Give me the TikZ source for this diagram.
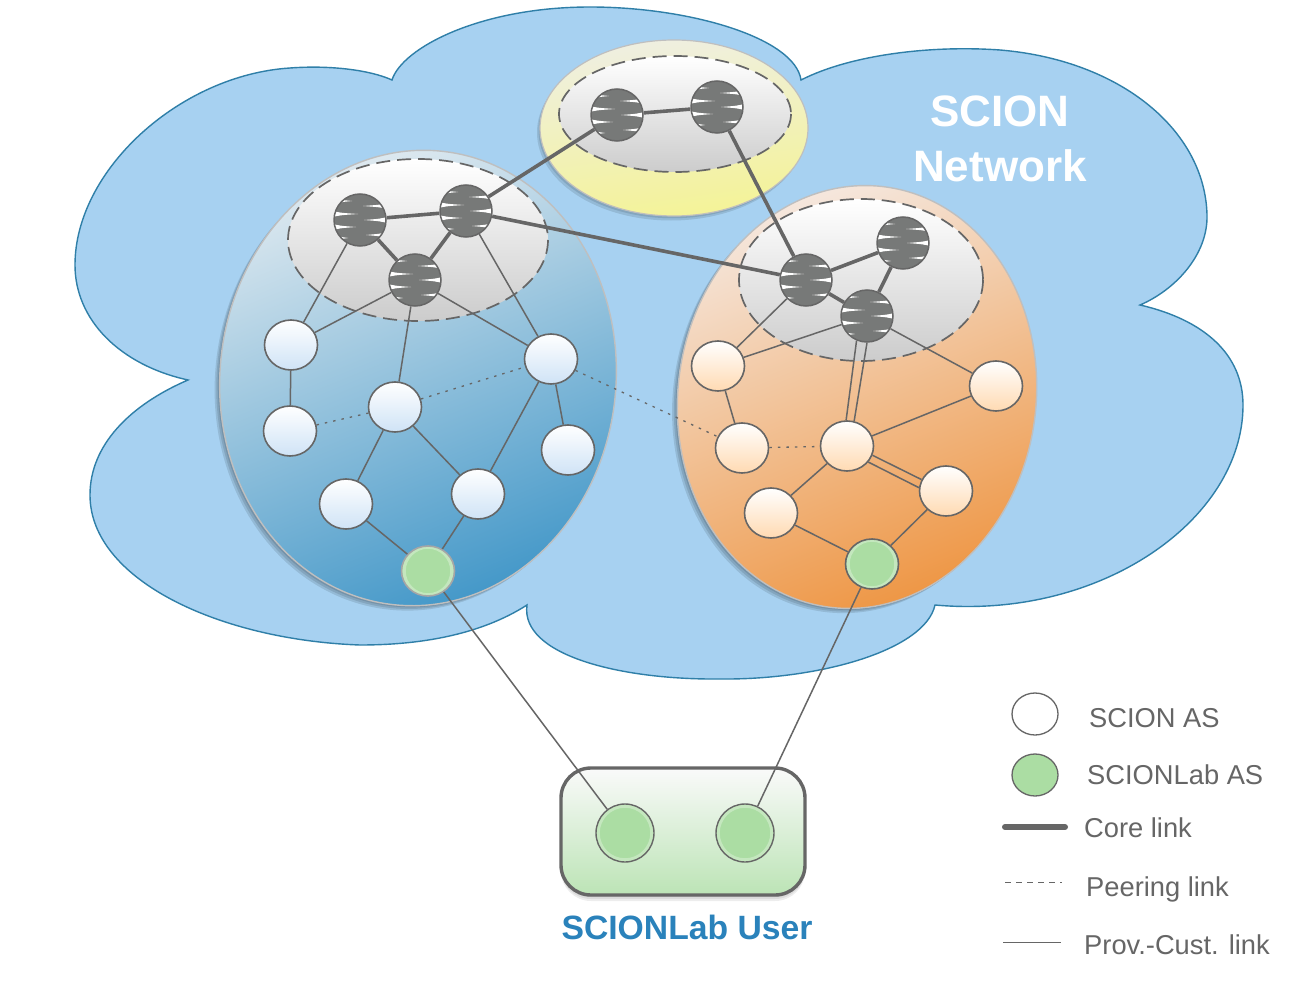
\documentclass[tikz,border=0pt]{standalone}
\usepackage{fontspec}
\setmainfont{Liberation Sans}
\usetikzlibrary{shapes.geometric}
\definecolor{linegray}{HTML}{666666}
\definecolor{routergray}{HTML}{777978}
\definecolor{cloudfill}{HTML}{A7D1F1}
\definecolor{cloudline}{HTML}{2F7FA8}
\definecolor{labgreen}{HTML}{ABDDA3}
\definecolor{userblue}{HTML}{2A82BB}
\definecolor{bluetop}{HTML}{E0EAF0}
\definecolor{bluebot}{HTML}{4297C8}
\definecolor{orangetop}{HTML}{F5E9E1}
\definecolor{orangebot}{HTML}{EE9542}
\definecolor{yellowtop}{HTML}{EFEFE2}
\definecolor{yellowbot}{HTML}{F4F396}
\definecolor{asbluebot}{HTML}{CFE3F6}
\definecolor{asorangebot}{HTML}{FFDAB2}
\newcommand{\slv}[3]{\fill[white] (#1*30,#2-3.6) .. controls (#1*20,#2-1.2) .. (#3,#2) .. controls (#1*20,#2+1.2) .. (#1*30,#2+3.6) -- cycle;}
\tikzset{
  x=1pt,y=-1pt,
  cloudshape/.style={fill=cloudfill,draw=cloudline,line width=1.4pt},
  coreregion/.style={draw=linegray,line width=1.7pt,dash pattern=on 14pt off 7pt,top color=white,bottom color=black!20},
  router/.style={circle,draw=linegray,line width=1.5pt,minimum size=52pt,inner sep=0pt,fill=routergray,
    path picture={
      \begin{scope}[shift={(path picture bounding box.center)}]
        \slv{1}{-14}{3}
        \slv{-1}{-19}{-8}
        \slv{-1}{-6}{-2}
        \slv{1}{0}{4}
        \slv{-1}{7}{-4}
        \slv{1}{15}{6}
        \slv{-1}{18}{-12}
      \end{scope}}},
  asbase/.style={ellipse,draw=linegray,line width=1.6pt,minimum width=53pt,minimum height=50pt,inner sep=0pt},
  asblue/.style={asbase,top color=white,bottom color=asbluebot},
  asorange/.style={asbase,top color=white,bottom color=asorangebot},
  labring/.style={path picture={\draw[white,opacity=.3,line width=3.5pt] (path picture bounding box.center) circle [radius=#1];}},
  aslab/.style={asbase,fill=labgreen,labring=24},
  aspale/.style={asbase,fill=labgreen,draw=black!35,labring=24},
  asuser/.style={circle,draw=linegray,line width=1.4pt,minimum size=58pt,inner sep=0pt,fill=labgreen,labring=27},
  corelink/.style={draw=linegray,line width=3.6pt},
  custlink/.style={draw=linegray,line width=1.5pt},
  peerlink/.style={draw=linegray,line width=1.3pt,dash pattern=on 2.5pt off 6pt},
  legendtext/.style={text=linegray,font=\fontsize{27.3}{30}\selectfont,anchor=west,inner sep=0pt},
  softshadow/.style={fill=black,opacity=.11},
}
\begin{document}
\begin{tikzpicture}
\useasboundingbox[fill=white] (0,0) rectangle (1316,987);
% cloud
\path[cloudshape] (392,80)
  .. controls (402,48) and (480,7) .. (590,7)
  .. controls (690,7) and (795,38) .. (801,80)
  .. controls (850,55) and (930,45) .. (1000,50)
  .. controls (1120,60) and (1205,130) .. (1207,215)
  .. controls (1208,255) and (1175,290) .. (1140,305)
  .. controls (1205,320) and (1243,355) .. (1243,405)
  .. controls (1243,520) and (1100,620) .. (935,605)
  .. controls (925,650) and (820,680) .. (720,679)
  .. controls (620,680) and (520,655) .. (527,605)
  .. controls (480,635) and (420,645) .. (360,645)
  .. controls (220,640) and (90,580) .. (90,495)
  .. controls (90,445) and (130,405) .. (188,380)
  .. controls (120,365) and (75,320) .. (75,265)
  .. controls (75,170) and (180,75) .. (290,68)
  .. controls (330,65) and (370,70) .. (392,80) -- cycle;
% yellow region
\foreach \d in {1.5,3}{\fill[softshadow] (674-\d,128+1.5*\d) ellipse [x radius=134,y radius=88];}
\path[draw=black!25,line width=1.2pt,top color=yellowtop,bottom color=yellowbot,shading angle=8]
  (674,128) ellipse [x radius=134,y radius=88];
% blue region
\foreach \d in {1.5,3,4.5}{\fill[softshadow,rotate around={-6:(418,378)}] (418-\d,378+1.2*\d) ellipse [x radius=198,y radius=228];}
\path[draw=black!25,line width=1.4pt,rotate around={-6:(418,378)},
  top color=bluetop,bottom color=bluebot,shading angle=22]
  (418,378) ellipse [x radius=198,y radius=228];
% orange region
\foreach \d in {1.5,3,4.5}{\fill[softshadow,rotate around={-8:(857,397)}] (857-\d,397+1.2*\d) ellipse [x radius=179,y radius=212];}
\path[draw=black!25,line width=1.4pt,rotate around={-8:(857,397)},
  top color=orangetop,bottom color=orangebot,shading angle=22]
  (857,397) ellipse [x radius=179,y radius=212];
% core regions
\path[coreregion] (418,240) ellipse [x radius=130,y radius=81];
\path[coreregion] (675,114) ellipse [x radius=116,y radius=58];
\path[coreregion] (861,280) ellipse [x radius=122,y radius=81];
% user box
\foreach \d in {2,4,6}{\fill[black,opacity=.07,rounded corners=30pt] (561,768+\d) rectangle (805,895+\d);}
\path[draw=linegray,line width=3.4pt,top color=black!2!white,bottom color=labgreen!80!white,rounded corners=30pt] (561,768) rectangle (805,895);
% routers
\node[router] (L1) at (360,220) {};
\node[router] (L2) at (466,211) {};
\node[router] (L3) at (415,280) {};
\node[router] (T1) at (617,115) {};
\node[router] (T2) at (717,107) {};
\node[router] (R1) at (806,280) {};
\node[router] (R2) at (903,243) {};
\node[router] (R3) at (867,316) {};
% blue ASes
\node[asblue] (a) at (291,345) {};
\node[asblue] (b) at (290,431) {};
\node[asblue] (c) at (395,407) {};
\node[asblue] (d) at (551,359) {};
\node[asblue] (e) at (568,450) {};
\node[asblue] (f) at (346,504) {};
\node[asblue] (g) at (478,494) {};
\node[aspale] (gl) at (428,571) {};
% orange ASes
\node[asorange] (p) at (718,366) {};
\node[asorange] (q) at (996,386) {};
\node[asorange] (r) at (742,448) {};
\node[asorange] (s) at (847,446) {};
\node[asorange] (t) at (771,513) {};
\node[asorange] (u) at (946,491) {};
\node[aslab] (gr) at (872,564) {};
% user ASes
\node[asuser] (u1) at (625,833) {};
\node[asuser] (u2) at (745,833) {};
% core links
\draw[corelink] (L1) -- (L2);
\draw[corelink] (L1) -- (L3);
\draw[corelink] (L2) -- (L3);
\draw[corelink] (L2) -- (T1);
\draw[corelink] (L2) -- (R1);
\draw[corelink] (T1) -- (T2);
\draw[corelink] (T2) -- (R1);
\draw[corelink] (R1) -- (R2);
\draw[corelink] (R1) -- (R3);
\draw[corelink] (R2) -- (R3);
% provider-customer links
\draw[custlink] (L1) -- (a);
\draw[custlink] (L3) -- (a);
\draw[custlink] (L3) -- (c);
\draw[custlink] (L3) -- (d);
\draw[custlink] (L2) -- (d);
\draw[custlink] (a) -- (b);
\draw[custlink] (c) -- (f);
\draw[custlink] (c) -- (g);
\draw[custlink] (d) -- (g);
\draw[custlink] (d) -- (e);
\draw[custlink] (f) -- (gl);
\draw[custlink] (g) -- (gl);
\draw[custlink] (gl) -- (u1);
\draw[custlink] (gr) -- (u2);
\draw[custlink] (R1) -- (p);
\draw[custlink] (R3) -- (p);
\draw[custlink] (R3) -- (q);
\draw[custlink] (p) -- (r);
\draw[custlink] (s) -- (q);
\draw[custlink] (s) -- (t);
\draw[custlink] (t) -- (gr);
\draw[custlink] (u) -- (gr);
\draw[custlink] (R3.247) -- (s.92);
\draw[custlink] (R3.270) -- (s.74);
\draw[custlink] (s.-20) -- (u.155);
\draw[custlink] (s.-37) -- (u.173);
% peering links
\draw[peerlink] (b) -- (c);
\draw[peerlink] (c) -- (d);
\draw[peerlink] (d) -- (r);
\draw[peerlink] (r) -- (s);
% labels
\node[text=white,font=\bfseries\fontsize{44}{50}\selectfont] (net1) at (1000,111) {SCION};
\node[text=white,font=\bfseries\fontsize{44}{50}\selectfont] (net2) at (1000,166) {Network};
\node[text=userblue,font=\bfseries\fontsize{33.7}{36}\selectfont] (ul) at (687,927) {SCIONLab User};
% legend
\node[ellipse,draw=linegray,line width=1.3pt,minimum width=46pt,minimum height=42pt,inner sep=0pt,fill=white] (k1) at (1035,714) {};
\node[ellipse,draw=linegray,line width=1.3pt,minimum width=46pt,minimum height=42pt,inner sep=0pt,fill=labgreen] (k2) at (1035,775) {};
\node[legendtext] (t1) at (1089,718) {SCION AS};
\node[legendtext] (t2) at (1087,775) {SCIONLab AS};
\node[legendtext] (t3) at (1084,828) {Core link};
\node[legendtext] (t4) at (1086,889) {Peering link};
\node[legendtext] (t5) at (1084,945) {Prov.-Cust. link};
\coordinate (c3a) at (1005,827); \coordinate (c3b) at (1065,827);
\coordinate (c4a) at (1005,882); \coordinate (c4b) at (1062,882);
\coordinate (c5a) at (1003,942); \coordinate (c5b) at (1061,942);
\draw[draw=linegray,line width=6pt,line cap=round] (c3a) -- (c3b);
\draw[draw=linegray,line width=1pt,dash pattern=on 6pt off 5pt] (c4a) -- (c4b);
\draw[draw=linegray,line width=1pt] (c5a) -- (c5b);
\end{tikzpicture}
\end{document}
